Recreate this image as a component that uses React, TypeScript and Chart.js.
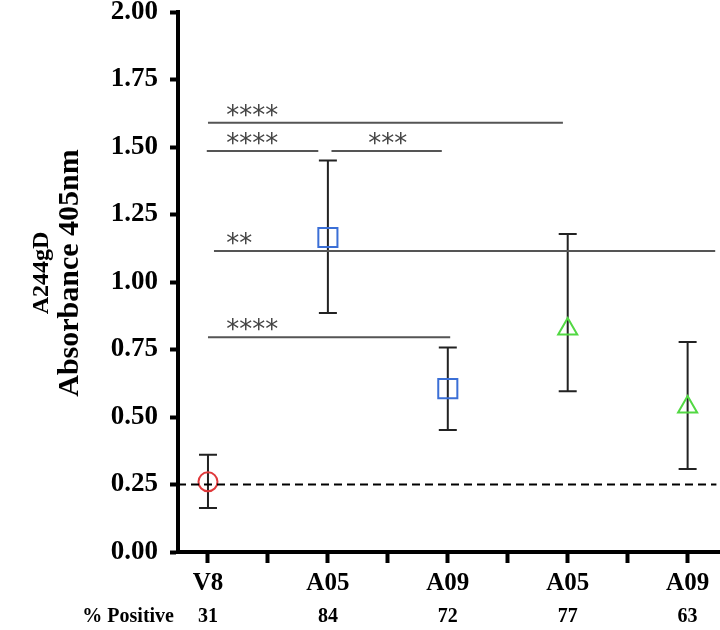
import React, { useEffect, useRef } from 'react';
import { Chart, registerables } from 'chart.js';

Chart.register(...registerables);

const categories = ['V8', 'A05', 'A09', 'A05', 'A09'];
const percentPositive = ['31', '84', '72', '77', '63'];
const means = [0.26, 1.165, 0.605, 0.826, 0.537];
const upperErr = [0.36, 1.45, 0.757, 1.178, 0.778];
const lowerErr = [0.163, 0.885, 0.452, 0.595, 0.307];
const pointStyles = ['circle', 'rect', 'rect', 'triangle', 'triangle'];
const pointColors = ['#e0393b', '#3b6fd6', '#3b6fd6', '#52d843', '#52d843'];
const pointSizes = [9.5, 13.5, 13.5, 11, 11];
const cutoff = 0.25;
const yTickValues = [0, 0.25, 0.5, 0.75, 1, 1.25, 1.5, 1.75, 2];
const xTickValues = [0, 0.5, 1, 1.5, 2, 2.5, 3, 3.5, 4];

const sigLabels = ['****', '****', '***', '**', '****'];
const sigY = [1.59, 1.485, 1.485, 1.115, 0.795];
const sigStart = [0, -0.01, 1.03, 0.05, 0];
const sigEnd = [2.96, 0.92, 1.95, 4.23, 2.02];
const sigTextX = [0.37, 0.37, 1.5, 0.26, 0.37];

const SERIF = '"Liberation Serif", "Times New Roman", serif';

const overlayPlugin = {
  id: 'overlay',
  beforeDatasetsDraw(chart: any) {
    const ctx = chart.ctx;
    const xs = chart.scales.x;
    const ys = chart.scales.y;
    ctx.save();
    ctx.strokeStyle = '#222';
    ctx.lineWidth = 2;
    for (let i = 0; i < means.length; i++) {
      const x = xs.getPixelForValue(i);
      const yu = ys.getPixelForValue(upperErr[i]);
      const yl = ys.getPixelForValue(lowerErr[i]);
      ctx.beginPath();
      ctx.moveTo(x, yu);
      ctx.lineTo(x, yl);
      ctx.moveTo(x - 9, yu);
      ctx.lineTo(x + 9, yu);
      ctx.moveTo(x - 9, yl);
      ctx.lineTo(x + 9, yl);
      ctx.stroke();
    }
    ctx.strokeStyle = '#555';
    ctx.lineWidth = 2;
    ctx.fillStyle = '#444';
    ctx.font = '26px "DejaVu Sans", sans-serif';
    ctx.textAlign = 'center';
    ctx.textBaseline = 'alphabetic';
    for (let i = 0; i < sigLabels.length; i++) {
      const y = ys.getPixelForValue(sigY[i]);
      ctx.beginPath();
      ctx.moveTo(xs.getPixelForValue(sigStart[i]), y);
      ctx.lineTo(xs.getPixelForValue(sigEnd[i]), y);
      ctx.stroke();
      ctx.fillText(sigLabels[i], xs.getPixelForValue(sigTextX[i]), y + 1);
    }
    ctx.restore();
  },
  afterDraw(chart: any) {
    const ctx = chart.ctx;
    const xs = chart.scales.x;
    ctx.save();
    ctx.fillStyle = '#000';
    ctx.font = 'bold 20px ' + SERIF;
    ctx.textBaseline = 'middle';
    ctx.textAlign = 'right';
    ctx.fillText('% Positive', 174, 617);
    ctx.textAlign = 'center';
    for (let i = 0; i < percentPositive.length; i++) {
      ctx.fillText(percentPositive[i], xs.getPixelForValue(i), 617);
    }
    const cy = 273;
    ctx.translate(0, cy);
    ctx.rotate(-Math.PI / 2);
    ctx.textAlign = 'center';
    ctx.textBaseline = 'alphabetic';
    ctx.font = 'bold 24px ' + SERIF;
    ctx.fillText('A244gD', 0, 48);
    ctx.font = 'bold 30px ' + SERIF;
    ctx.fillText('Absorbance 405nm', 0, 78);
    ctx.restore();
  },
};

export default function App() {
  const ref = useRef<HTMLCanvasElement>(null);
  useEffect(() => {
    if (!ref.current) return;
    const chart = new Chart(ref.current, {
      type: 'scatter',
      data: {
        datasets: [
          {
            type: 'line',
            data: [
              { x: -0.25, y: cutoff },
              { x: 4.24, y: cutoff },
            ],
            borderColor: '#000',
            borderWidth: 2,
            borderDash: [8, 5],
            pointRadius: 0,
            fill: false,
          } as any,
          {
            data: means.map((v, i) => ({ x: i, y: v })),
            pointStyle: pointStyles as any,
            pointRadius: pointSizes,
            pointBorderColor: pointColors,
            pointBackgroundColor: 'rgba(0,0,0,0)',
            pointBorderWidth: 2,
            showLine: false,
          },
        ],
      },
      options: {
        responsive: false,
        animation: false,
        layout: { autoPadding: false, padding: { top: 12, right: 0, left: 0, bottom: 0 } },
        plugins: { legend: { display: false }, tooltip: { enabled: false }, title: { display: false } },
        scales: {
          x: {
            type: 'linear',
            min: -0.25,
            max: 4.27,
            afterFit: (s: any) => {
              s.height = 78;
              s.paddingLeft = 0;
              s.paddingRight = 0;
            },
            afterBuildTicks: (s: any) => { s.ticks = xTickValues.map((v) => ({ value: v })); },
            grid: { drawOnChartArea: false, drawTicks: true, tickLength: 11, tickWidth: 4, tickColor: '#000' },
            border: { display: true, width: 4, color: '#000' },
            ticks: {
              autoSkip: false,
              maxRotation: 0,
              padding: 6,
              color: '#000',
              font: { family: SERIF, size: 25, weight: 'bold' },
              callback: (v: any) => (Number.isInteger(v) ? categories[v] : ''),
            },
          },
          y: {
            type: 'linear',
            min: 0,
            max: 2,
            afterFit: (s: any) => {
              s.width = 178;
              s.paddingTop = 0;
              s.paddingBottom = 0;
            },
            afterBuildTicks: (s: any) => { s.ticks = yTickValues.map((v) => ({ value: v })); },
            grid: { drawOnChartArea: false, drawTicks: true, tickLength: 8, tickWidth: 4, tickColor: '#000' },
            border: { display: true, width: 4, color: '#000' },
            ticks: {
              padding: 12,
              color: '#000',
              font: { family: SERIF, size: 27, weight: 'bold' },
              callback: (v: any) => Number(v).toFixed(2),
            },
          },
        },
      },
      plugins: [overlayPlugin],
    });
    return () => chart.destroy();
  }, []);
  return (
    <div style={{ position: 'fixed', left: 0, top: 0, width: 720, height: 630, background: '#fff' }}>
      <canvas ref={ref} width={720} height={630} style={{ display: 'block' }} />
    </div>
  );
}
